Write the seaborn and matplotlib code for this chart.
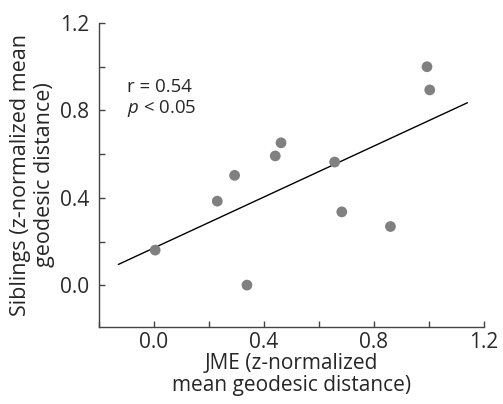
import matplotlib
matplotlib.use("Agg")
import matplotlib.pyplot as plt
import numpy as np
import pandas as pd
import seaborn as sns
from matplotlib.ticker import MultipleLocator

# values
jme = [0.004, 0.23, 0.293, 0.338, 0.441, 0.462, 0.657, 0.683, 0.860, 0.993, 1.003]
siblings = [0.161, 0.385, 0.503, 0.001, 0.592, 0.652, 0.564, 0.336, 0.269, 1.0, 0.894]
x_ticks = [0.0, 0.4, 0.8, 1.2]
y_ticks = [0.0, 0.4, 0.8, 1.2]

df = pd.DataFrame({"jme": jme, "siblings": siblings})

sns.set_style("ticks")
plt.rcParams['font.family'] = ['Open Sans', 'DejaVu Sans']
plt.rcParams['mathtext.fontset'] = 'custom'
plt.rcParams['mathtext.it'] = 'Open Sans:italic'
plt.rcParams['mathtext.rm'] = 'Open Sans'

fig = plt.figure(figsize=(5.03, 4.04), dpi=100)
ax = fig.add_axes([0.197, 0.191, 0.765, 0.752])

# fit line spans this x range in the original
ax.set_xlim(-0.13, 1.14)
sns.regplot(data=df, x="jme", y="siblings", ax=ax, ci=None, truncate=False,
            scatter_kws=dict(s=60, color="#808080", alpha=1, edgecolor="none", zorder=3),
            line_kws=dict(color="black", lw=1.0))

ax.set_xlim(-0.2, 1.2)
ax.set_ylim(-0.19, 1.2)
ax.set_xticks(x_ticks)
ax.set_yticks(y_ticks)
ax.xaxis.set_minor_locator(MultipleLocator(0.2))
ax.yaxis.set_minor_locator(MultipleLocator(0.2))
ax.tick_params(which='both', direction='in', length=4, width=1, color='#444444',
               labelsize=15, labelcolor='#2a2a2a')
ax.tick_params(axis='x', pad=4)
ax.tick_params(axis='y', pad=7)
for s in ['left', 'bottom']:
    ax.spines[s].set_color('#444444')
    ax.spines[s].set_linewidth(1)
sns.despine(ax=ax)

ax.set_xlabel("JME (z-normalized\nmean geodesic distance)", fontsize=15, linespacing=1.05, labelpad=0)
ax.set_ylabel("Siblings (z-normalized mean\ngeodesic distance)", fontsize=15.5, linespacing=1.15)
ax.yaxis.set_label_coords(-0.115, 0.5)

ax.text(0.072, 0.774, "r = 0.54", transform=ax.transAxes,
        fontsize=13.4, va='baseline', ha='left')
ax.text(0.072, 0.704, "$\\it{p}$ < 0.05", transform=ax.transAxes,
        fontsize=13.4, va='baseline', ha='left')

fig.savefig("out.png", dpi=100)
